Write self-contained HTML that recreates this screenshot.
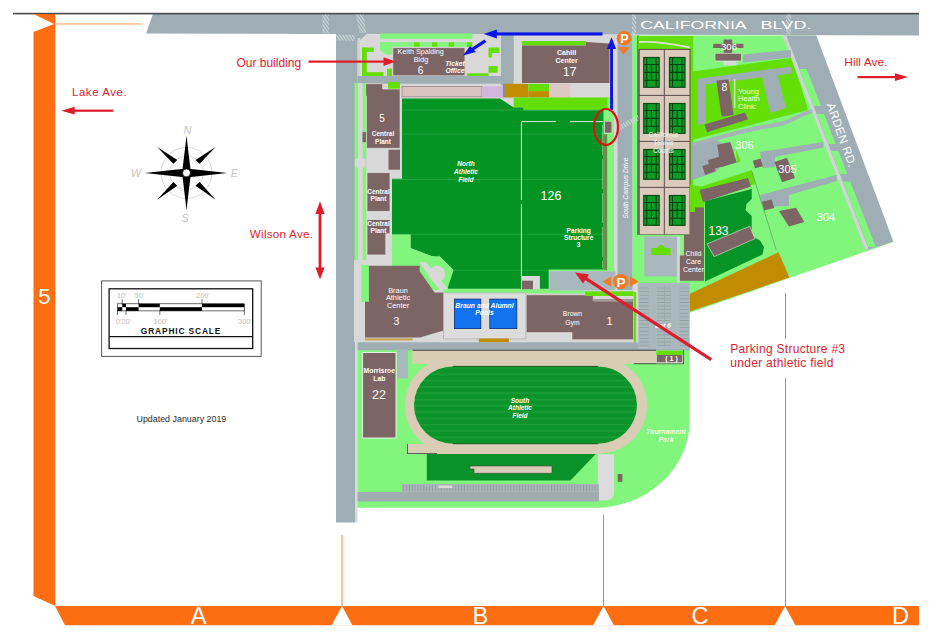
<!DOCTYPE html>
<html><head><meta charset="utf-8"><style>
html,body{margin:0;padding:0;background:#fff;overflow:hidden;width:932px;height:639px;}
svg{display:block;}
text{font-family:"Liberation Sans",sans-serif;}
</style></head><body>
<svg width="932" height="639" viewBox="0 0 932 639">
<rect x="0" y="0" width="932" height="639" fill="#fff"/>
<!-- top road -->
<polygon points="153,14 919,14 919,35.5 146,33.5" fill="#9eaeb4"/>
<rect x="13" y="12.8" width="906" height="1.6" fill="#4a4a4a"/>
<defs><pattern id="hatch" width="2.6" height="2.6" patternUnits="userSpaceOnUse" patternTransform="rotate(-35)"><rect width="1.1" height="2.6" fill="#cdd8da"/></pattern></defs>
<rect x="322.4" y="14.5" width="6.4" height="18.8" fill="url(#hatch)"/>
<polygon points="355.8,14.5 363.5,14.5 366.3,33.3 359.6,33.3" fill="url(#hatch)"/>
<rect x="632" y="14.5" width="4" height="20" fill="url(#hatch)"/><rect x="786" y="14.5" width="5" height="20" fill="url(#hatch)"/>

<!-- left vertical road -->
<rect x="336" y="33" width="19" height="489.5" fill="#9eaeb4"/>
<rect x="355" y="33" width="2.5" height="489.5" fill="#d4dcd6"/>

<rect x="336.3" y="34.8" width="21.7" height="6" fill="url(#hatch)"/>
<!-- EAST CAMPUS base -->
<polygon points="637,35.5 815,35.5 893,242 689,313 637,313" fill="#82f57c"/>
<!-- Arden road -->
<polygon points="784,35.5 816.3,35.5 893.3,241.6 866,250.5" fill="#9eaeb4"/>
<polygon points="782.6,35.5 786.2,35.5 868.8,249 865.2,250" fill="#d0d4d4"/>

<!-- WEST CAMPUS base -->
<rect x="355" y="33" width="12" height="8" fill="#9eaeb4"/>
<polygon points="366,34.4 637.5,34.4 637.5,350 357.5,350 357.5,83 360.5,83 360.5,40" fill="#d8d8d8"/>
<!-- south area light green -->
<path d="M357.5,349.4 H689.7 V420.8 A95.5,87 0 0 1 594.2,507.8 H357.5 Z" fill="#82f57c"/>


<!-- NORTH WEST CAMPUS -->
<rect x="355" y="33" width="2.6" height="50" fill="#9eaeb4"/>
<rect x="357.6" y="38" width="2.9" height="45" fill="#cdd6cf"/>
<polygon points="360.5,40 366,34.4 503.7,34.4 503.7,76 360.5,76" fill="#d8d8d8"/>
<rect x="380" y="33.5" width="92.4" height="5.3" fill="#82f57c"/>
<rect x="380" y="42.3" width="92" height="4.4" fill="#82f57c"/>
<polygon points="380,42.3 392,42.3 392,54.6 386,54.6 380,50" fill="#82f57c"/>
<rect x="414" y="42.3" width="5.6" height="4.4" fill="#64df06"/>
<rect x="432" y="42.3" width="5.4" height="4.4" fill="#64df06"/>
<rect x="448.6" y="42.3" width="5.4" height="4.4" fill="#64df06"/>
<rect x="467" y="42.3" width="5.4" height="4.4" fill="#64df06"/>
<rect x="362" y="47.6" width="4.8" height="28.4" fill="#64df06"/>
<rect x="362" y="47.6" width="11.8" height="4.4" fill="#64df06"/>
<rect x="362" y="72.2" width="21.5" height="3.8" fill="#64df06"/>
<rect x="387" y="68.7" width="5" height="7.3" fill="#64df06"/>
<rect x="392.9" y="47.8" width="72" height="28" fill="#7d6565" stroke="#ddd4d4" stroke-width="0.6"/>
<polygon points="488.5,47.5 499.4,47.5 499.4,53 491.8,53 491.8,57.4 488.5,57.4" fill="#64df06"/>
<rect x="488.5" y="66.1" width="9.2" height="6.6" fill="#64df06"/>
<rect x="467.1" y="73.3" width="21.4" height="2.7" fill="#64df06"/>
<rect x="357.5" y="76" width="146.2" height="7.7" fill="#9eaeb4"/>
<rect x="501" y="35" width="12.7" height="50" fill="#9eaeb4"/>
<rect x="522" y="41" width="64" height="4.5" fill="#64df06"/>
<polygon points="522,45.5 586,45.5 586,42 609.5,43.5 609.5,82.9 522,82.9" fill="#7d6565"/>
<!-- row -->
<rect x="388" y="82" width="12" height="7" fill="#64df06"/>
<polygon points="365,83.7 382.6,83.7 382.6,89 400,89 400,148.3 366.5,148.3 366.5,96 365,96" fill="#7d6565" stroke="#ece4e4" stroke-width="0.6"/>
<rect x="402" y="86.3" width="80" height="10.6" fill="#d9c2be" stroke="#8a7672" stroke-width="0.6"/>
<rect x="482" y="86.3" width="20.8" height="11.2" fill="#d4b6dc"/>
<rect x="502.8" y="83.8" width="3.2" height="13.7" fill="#8c8c8c"/>
<rect x="506" y="83.8" width="22.3" height="13.7" fill="#c18b02"/>
<rect x="528.3" y="91.1" width="21" height="6.4" fill="#c18b02"/>
<rect x="528.3" y="83.8" width="21" height="7.3" fill="#64df06"/>
<rect x="549.3" y="83.8" width="21" height="13.7" fill="#dcc8c4"/>
<polygon points="513.7,97.5 609.5,97.5 609.5,110.3 523.5,110.3 523.5,107.5 513.7,107.5" fill="#64df06"/>
<!-- field -->
<polygon points="402,98.6 500,98.6 513.7,107.5 523.5,107.5 523.5,110.3 603.7,110.3 603.7,270 548.75,270 548.75,288.75 445,288.75 453.4,269.7 438.5,255 441.8,260 410.3,248 410.3,234.8 392,234.8 392,178.8 402,178.8" fill="#039424"/>

<!-- field lines -->
<g stroke="#3cb85a" stroke-width="0.6" opacity="0.9">
<line x1="402" y1="110" x2="603.7" y2="110"/>
<line x1="402" y1="134.1" x2="603.7" y2="134.1"/>
<line x1="392" y1="179.5" x2="603.7" y2="179.5"/>
<line x1="392" y1="234.2" x2="603.7" y2="234.2"/>
<line x1="447" y1="270.2" x2="548" y2="270.2"/>
</g>
<g stroke="#e8f4e8" stroke-width="0.9">
<line x1="521.4" y1="121.6" x2="521.4" y2="200"/>
<line x1="521.4" y1="204" x2="521.4" y2="276"/>
<line x1="521.4" y1="121.6" x2="555.8" y2="121.6"/>
<line x1="569.9" y1="121.6" x2="602.8" y2="121.6"/>
</g>
<line x1="602.6" y1="125" x2="602.6" y2="268" stroke="#b8e0b8" stroke-width="0.6" stroke-dasharray="30,4"/>

<!-- central plants column -->
<rect x="358" y="83" width="3.4" height="177" fill="#d8d8d8"/>
<rect x="354.5" y="83" width="3.5" height="177" fill="#82f57c"/>
<rect x="362.6" y="83" width="3.6" height="177" fill="#82f57c"/>
<rect x="355" y="158.5" width="10.5" height="9.1" fill="#d8d8d8"/>
<rect x="362.5" y="132" width="3.5" height="10.2" fill="#7d6565"/>
<rect x="388.5" y="149.7" width="11.5" height="20" fill="#7d6565"/>
<rect x="367" y="172.7" width="23" height="38.7" fill="#7d6565" stroke="#ece4e4" stroke-width="0.7"/>
<polygon points="367,219.5 390,219.5 390,233.8 385.8,233.8 385.8,255 367,255" fill="#7d6565" stroke="#ece4e4" stroke-width="0.7"/>
<polygon points="392,234.8 410.3,234.8 410.3,248 441.8,260 392,260" fill="#82f57c"/>
<rect x="354" y="260" width="69.6" height="5" fill="#d8d8d8"/>


<!-- BRAUN / POOLS / GYM -->
<polygon points="410.5,234.8 410.5,247.8 419.7,256.3 439.4,256.3 453.5,270.4 447,290 420,290 392,265 392,234.8" fill="#82f57c"/>
<polygon points="419,262 426,262 449,290 441,292" fill="#d8d8d8"/>
<circle cx="436.8" cy="274" r="8.3" fill="#d8d8d8"/>
<polygon points="354,265 357.5,265 357.5,342 354,342" fill="#d8d8d8"/>
<rect x="361.4" y="265" width="7.5" height="37" fill="#82f57c"/>
<polygon points="368.9,265.8 419.7,265.8 419.7,271.3 434.6,292.4 443.6,292.4 443.6,330.5 420,337.5 365,337.5 365,301.8 368.9,301.8" fill="#7d6565"/>
<rect x="365" y="338.3" width="47.7" height="2.2" fill="#c9a45a"/>
<rect x="443.6" y="289" width="116" height="4" fill="#82f57c"/>
<rect x="443.6" y="292.9" width="82.2" height="46" fill="#dcdcdc" stroke="#b4b4b4" stroke-width="0.8"/>
<rect x="454.5" y="299.1" width="26.3" height="29.5" fill="#1173f0" stroke="#102a70" stroke-width="0.8"/>
<rect x="489.8" y="299.1" width="27" height="29.5" fill="#1173f0" stroke="#102a70" stroke-width="0.8"/>
<rect x="478.9" y="338.5" width="30" height="3.8" fill="#c18b02"/>
<rect x="521.1" y="276" width="18.8" height="13.2" fill="#d8d8d8"/>
<rect x="522" y="280.7" width="11" height="8.5" fill="#7d6565"/>
<polygon points="526.2,294.8 593.3,294.8 593.3,301 633.5,301 633.5,339.7 572,339.7 572,332.6 526.2,332.6" fill="#7d6565" stroke="#e8e0e0" stroke-width="0.6"/>
<rect x="593.3" y="299.6" width="40.2" height="0.8" fill="#4a3a3a"/>
<rect x="585" y="291.3" width="48.5" height="4.7" fill="#64df06"/><rect x="525" y="290.5" width="60" height="3" fill="#82f57c"/>
<rect x="633.75" y="292" width="2.5" height="50" fill="#64df06"/><rect x="636.25" y="290" width="2.5" height="52" fill="#d8d8d8"/>
<!-- parking near P -->
<rect x="548.75" y="269.5" width="66.25" height="2" fill="#82f57c"/><rect x="549.4" y="271.3" width="66" height="19" fill="#a8b8bc"/>
<!-- south campus drive -->
<rect x="603.7" y="134" width="3.8" height="136" fill="#6f8a4a"/><rect x="603.7" y="110.3" width="3.8" height="24" fill="#82f57c"/>
<rect x="607.5" y="98" width="6.7" height="172" fill="#82f57c"/>
<rect x="614.2" y="35" width="3.3" height="235" fill="#d8d8d8"/>
<rect x="617.5" y="35" width="15" height="255" fill="#9eaeb4"/>
<rect x="632.5" y="35.5" width="5" height="248" fill="#82f57c"/>
<rect x="637.2" y="35.5" width="1.6" height="200" fill="#5a6a5a"/>
<rect x="604.6" y="121.2" width="7.3" height="11.8" fill="#7d6565" stroke="#eee" stroke-width="0.5"/>

<polygon points="617.5,126 638,115 639,120 617.5,132" fill="url(#hatch)"/>
<!-- horizontal road -->
<rect x="357.5" y="342.3" width="332.2" height="8" fill="#9eaeb4"/>


<!-- SOUTH -->
<rect x="362.6" y="352.5" width="33.4" height="85.5" fill="#7d6565" stroke="#f4f4f4" stroke-width="0.9"/>
<rect x="397" y="349.4" width="11" height="29" fill="#a8b8bc"/>
<!-- track -->
<rect x="405" y="357" width="242" height="96.5" rx="48" ry="48" fill="#d9cdb6"/>
<rect x="412.2" y="350" width="244.1" height="13.9" fill="#d9cdb6"/>
<rect x="407" y="444" width="194" height="10" fill="#d9cdb6"/>
<rect x="407" y="444" width="0.8" height="10" fill="#444"/>
<rect x="407" y="453.2" width="30" height="0.8" fill="#444"/>
<rect x="412.7" y="349.8" width="243.5" height="0.9" fill="#333"/>
<rect x="633.7" y="363.3" width="50" height="0.9" fill="#3a4a3a"/><rect x="683" y="350" width="0.8" height="14" fill="#3a4a3a"/>
<defs><pattern id="stripes" x="0" y="373.5" width="20" height="6.3" patternUnits="userSpaceOnUse"><rect width="20" height="6.3" fill="#0a9429"/><rect y="0" width="20" height="1.5" fill="#1a9e36"/></pattern></defs>
<rect x="414" y="366.4" width="223" height="77.3" rx="39" ry="38.6" fill="url(#stripes)"/>
<rect x="453" y="365.9" width="145" height="0.9" fill="#0a4a18"/>
<rect x="453" y="443.3" width="145" height="0.9" fill="#0a4a18"/>
<polygon points="426.8,454 595.8,454 570.4,480.4 426.8,480.4" fill="#0a922a"/>
<polygon points="470,466 552,466 552,473.3 474,473.3 474,469 470,469" fill="#d9cdb6" stroke="#444" stroke-width="0.6"/>
<path d="M597.8,454.3 H614.2 V492 Q614.2,500.4 606,500.4 H597.8 Z" fill="#dcdcdc"/>
<rect x="617.7" y="474" width="4.7" height="7.8" fill="#7d6565"/>
<rect x="401.7" y="484" width="197.3" height="9" fill="#a8b4b8"/>
<defs><pattern id="ticks" x="0" y="0" width="2.9" height="10" patternUnits="userSpaceOnUse"><rect width="0.6" height="10" fill="#8a969a"/></pattern></defs>
<rect x="403" y="485" width="195" height="6" fill="url(#ticks)"/>
<rect x="438.3" y="485.5" width="14" height="2.5" fill="#dcdcdc"/>
<rect x="357.5" y="492" width="241.5" height="9.5" fill="#a0acb0"/>
<rect x="656.3" y="350.6" width="26.7" height="12.7" fill="#d8d8d8"/><rect x="656.3" y="350.6" width="26.7" height="4.3" fill="#64df06"/><rect x="656.9" y="354.9" width="25.3" height="7.3" fill="#7d6565"/>


<!-- EAST CAMPUS -->
<defs>
<g id="court">
<rect x="0" y="0" width="16.7" height="31" fill="#064a14"/>
<rect x="1.2" y="1.2" width="14.3" height="28.6" fill="#0c9e24"/>
<path d="M3.6,1.2 V29.8 M13.1,1.2 V29.8 M1.2,7.6 H15.5 M1.2,15.5 H15.5 M1.2,23.4 H15.5 M8.35,7.6 V23.4" stroke="#04400e" stroke-width="1.1" fill="none"/>
</g>
</defs>
<!-- lime zone north-east -->
<polygon points="638,36 692,36 692,49.4 638,49.4" fill="#64df06"/>
<path d="M639,42 Q660,41 690,47.5" stroke="#d8e0d8" stroke-width="1.8" fill="none"/>
<rect x="689.7" y="36" width="3.5" height="200" fill="#64df06"/>
<polygon points="692,71.5 791,58 800,83 808,110 692,140" fill="#64df06"/>
<polygon points="743,54.5 791,50 791,57.5 743,62.5" fill="#9eaeb4"/>
<!-- loop road -->
<polygon points="697.5,78.8 791.3,66.5 791.8,73.5 706,84.5 706,123.5 697.5,125" fill="#9eaeb4"/>
<polygon points="762,77 777.5,74.5 786,108 770.6,113" fill="#9eaeb4"/>
<polygon points="706,84.5 730,81 732,95 716,95 710,92" fill="#64df06"/>
<rect x="733.8" y="79" width="1.6" height="29" fill="#d8d8d8"/>
<polygon points="716.4,80.5 728.5,79.6 733.6,115 721.6,116.7" fill="#7d6565"/>
<polygon points="704.4,124.4 744.8,112.4 748.3,119.2 707,132.2" fill="#7d6565"/>
<!-- 306 top -->
<rect x="723.6" y="61" width="12.9" height="4.3" fill="#d8d8d8"/>
<rect x="723.6" y="39.5" width="8.6" height="15.5" fill="#7d6565"/>
<rect x="713.2" y="43.8" width="30.2" height="4.2" fill="#7d6565"/>
<rect x="715" y="53.2" width="26.6" height="7.8" fill="#7d6565" stroke="#f0f0f0" stroke-width="0.6"/>
<!-- curvy path -->
<path d="M692,145 L740,132 C760,127 770,126 780,124 C792,122 795,116 812,111" stroke="#a6b4b8" stroke-width="4" fill="none"/>
<polygon points="692,146 716,140 735,150 716,172 692,180" fill="#9eaeb4"/>
<!-- 306 lower -->
<polygon points="717.1,144.7 730.3,141.9 736.8,162.6 720.9,167.3" fill="#7d6565"/>
<polygon points="708,160 722,156 724,166 710,170" fill="#7d6565"/>
<polygon points="702.5,166 712.5,163 715.5,171 705,175" fill="#7d6565"/>
<polygon points="735.9,149.4 740.6,161.6 737,163" fill="#64df06"/>
<!-- 305 -->
<polygon points="760,152 823.2,142 823.5,147.5 775,157 775,167 763,168" fill="#9eaeb4"/>
<polygon points="752.8,160.8 760.5,158.5 763,166.3 755,168.3" fill="#7d6565"/>
<polygon points="774.4,162 787,157.8 795,178 782,182.3" fill="#7d6565"/>
<!-- 304 -->
<polygon points="760.3,195 836.4,175 837,181 789,195 789,205.8 760,207" fill="#9eaeb4"/>
<polygon points="761.2,202 771.5,199.5 774.4,208 764,210.5" fill="#7d6565"/>
<polygon points="779,211 796,207.7 804.4,222 789,226.4" fill="#7d6565"/>
<!-- light green strip in arden road -->
<polygon points="799.2,69.0 806.6,69.0 820.9,106.0 813.5,106.0" fill="#82f57c"/>
<polygon points="816.7,114.0 824.1,114.0 835.7,144.0 828.3,144.0" fill="#82f57c"/>
<polygon points="831.0,151.0 838.4,151.0 847.3,174.0 839.9,174.0" fill="#82f57c"/>
<polygon points="842.8,181.5 850.2,181.5 875.7,247.0 868.3,247.0" fill="#82f57c"/>

<!-- tennis -->
<rect x="639.2" y="49.4" width="50.8" height="185.4" fill="#dccbbc" stroke="#5a4a4a" stroke-width="1"/>
<path d="M664.3,49.4 V234.8 M639.2,95.4 H690 M639.2,141.4 H690 M639.2,187.4 H690" stroke="#5a4a4a" stroke-width="1"/>
<use href="#court" x="643.1" y="56.9"/><use href="#court" x="668.9" y="56.9"/>
<use href="#court" x="643.1" y="102.9"/><use href="#court" x="668.9" y="102.9"/>
<use href="#court" x="643.1" y="148.9"/><use href="#court" x="668.9" y="148.9"/>
<use href="#court" x="643.1" y="194.9"/><use href="#court" x="668.9" y="194.9"/>
<!-- below tennis -->
<rect x="637.5" y="234.8" width="52" height="48" fill="#82f57c"/>
<rect x="644.3" y="236.5" width="32.9" height="39.9" fill="#a8b8bc"/>
<path d="M651.3,255 V248 H657 Q661,241 665,248 H670.6 V255 Z" fill="#64df06"/>
<rect x="677.2" y="236.5" width="3" height="46" fill="#d8d8d8"/>
<!-- 133 area -->
<polygon points="689.7,236 701.8,186.6 752,170 776.3,250.1 689.7,282" fill="#82f57c"/>
<polygon points="689.7,185 701.8,186.6 752,170 755,184 705,200 700,235 689.7,235" fill="#64df06"/>
<polygon points="705,201 751.7,189 751.7,199 746.5,204 745.5,210 751.7,216 751.7,236 760,240.5 764,247 762.5,254.5 705,281.6" fill="#079427"/>
<polygon points="699.6,189.9 748,178 751,186.6 703,202" fill="#7d6565"/>
<polygon points="706.9,244 749.7,226.3 755,238.7 714.2,256.6" fill="#7d6565" stroke="#e8e8e8" stroke-width="0.6"/>
<polygon points="695,207.4 704,207.4 704,280.8 679.8,280.8 679.8,255.6 684,255.6 684,235 690,235 690,212 695,212" fill="#7d6565"/>
<line x1="752" y1="172" x2="776.3" y2="250.1" stroke="#5a8a5a" stroke-width="0.6"/>
<!-- gold -->
<polygon points="689.7,294 778.5,252.3 789.4,277.5 689.7,311.5" fill="#c18b02"/>
<!-- lot 6 -->
<rect x="638.2" y="283" width="51.5" height="66" fill="#a8b8bc"/>
<defs><pattern id="stall" x="0" y="284" width="10" height="3.6" patternUnits="userSpaceOnUse"><rect x="0" y="0" width="10" height="0.6" fill="#8a9498"/></pattern></defs>
<rect x="639.4" y="286" width="9.4" height="60" fill="url(#stall)"/>
<rect x="657" y="286" width="14" height="60" fill="url(#stall)"/>
<rect x="679.5" y="286" width="9.5" height="60" fill="url(#stall)"/>
<rect x="664" y="286" width="0.5" height="60" fill="#97a3a7"/>


<!-- MAP LABELS -->
<g font-family="Liberation Sans, sans-serif" fill="#fff" text-anchor="middle">
<text x="420.7" y="54" font-size="7.2">Keith Spalding</text>
<text x="421" y="61.6" font-size="7.2">Bldg</text>
<text x="420.5" y="73.6" font-size="10.2">6</text>
<text x="455" y="65.9" font-size="6.8" font-weight="bold" font-style="italic">Ticket</text>
<text x="455" y="73.2" font-size="6.8" font-weight="bold" font-style="italic">Office</text>
<text x="566.6" y="54.7" font-size="7" font-weight="bold">Cahill</text>
<text x="566.6" y="62.5" font-size="7" font-weight="bold">Center</text>
<text x="569.6" y="76" font-size="12.5">17</text>
<text x="382" y="122" font-size="10">5</text>
<text x="383" y="136" font-size="6.5" font-weight="bold">Central</text>
<text x="383" y="143.5" font-size="6.5" font-weight="bold">Plant</text>
<text x="378.5" y="193.5" font-size="6.5" font-weight="bold">Central</text>
<text x="378.5" y="201" font-size="6.5" font-weight="bold">Plant</text>
<text x="378.5" y="226" font-size="6.5" font-weight="bold">Central</text>
<text x="378.5" y="233" font-size="6.5" font-weight="bold">Plant</text>
<text x="466" y="166" font-size="6.5" font-weight="bold" font-style="italic">North</text>
<text x="466" y="174" font-size="6.5" font-weight="bold" font-style="italic">Athletic</text>
<text x="466" y="181.5" font-size="6.5" font-weight="bold" font-style="italic">Field</text>
<text x="551" y="199.5" font-size="12.5">126</text>
<text x="578.7" y="232.5" font-size="6.6" font-weight="bold">Parking</text>
<text x="578.7" y="239.7" font-size="6.6" font-weight="bold">Structure</text>
<text x="578.7" y="247.2" font-size="6.6" font-weight="bold">3</text>
<text x="398" y="292.5" font-size="7.4">Braun</text>
<text x="398" y="300.2" font-size="7.4">Athletic</text>
<text x="398" y="307.8" font-size="7.4">Center</text>
<text x="396.5" y="324.5" font-size="10.5">3</text>
<text x="484.5" y="307.5" font-size="6.8" font-weight="bold" font-style="italic">Braun and Alumni</text>
<text x="484.5" y="315" font-size="6.8" font-weight="bold" font-style="italic">Pools</text>
<text x="572.5" y="316" font-size="6.8">Brown</text>
<text x="572.5" y="324.5" font-size="6.8">Gym</text>
<text x="609.5" y="325" font-size="11">1</text>
<text x="379.3" y="373" font-size="6.8" font-weight="bold">Morrisroe</text>
<text x="379.3" y="381" font-size="6.8" font-weight="bold">Lab</text>
<text x="379" y="399" font-size="12.5">22</text>
<text x="520" y="402.5" font-size="6.5" font-weight="bold" font-style="italic">South</text>
<text x="520" y="410" font-size="6.5" font-weight="bold" font-style="italic">Athletic</text>
<text x="520" y="417.5" font-size="6.5" font-weight="bold" font-style="italic">Field</text>
<text x="666" y="434.2" font-size="6.9" font-weight="bold" font-style="italic" fill="#eefcee">Tournament</text>
<text x="666" y="442" font-size="6.9" font-weight="bold" font-style="italic" fill="#eefcee">Park</text>
<text x="671.5" y="361.2" font-size="7" font-weight="bold">( 1 )</text>
<text x="663" y="328" font-size="6.5" font-weight="bold" font-style="italic">Lot 6</text>
<text x="693.5" y="256" font-size="7">Child</text>
<text x="693.5" y="264" font-size="7">Care</text>
<text x="693.5" y="272" font-size="7">Center</text>
<text x="718.5" y="234.5" font-size="12">133</text>
<text x="724.5" y="90.5" font-size="10.5">8</text>
<text x="729" y="49.8" font-size="9.6">306</text>
<text x="744.5" y="149" font-size="11">306</text>
<text x="787.5" y="173" font-size="11">305</text>
<text x="826" y="221" font-size="11">304</text>
<text x="663.5" y="137" font-size="6.5" font-weight="bold" fill="#e8f8e8" opacity="0.85">California</text>
<text x="663.5" y="145" font-size="6.5" font-weight="bold" fill="#e8f8e8" opacity="0.85">Tennis</text>
<text x="663.5" y="153" font-size="6.5" font-weight="bold" fill="#e8f8e8" opacity="0.85">Courts</text>
</g>
<g font-family="Liberation Sans, sans-serif" fill="#f0fff0" font-size="7.5">
<text x="738" y="93.5">Young</text>
<text x="738" y="101.2">Health</text>
<text x="738" y="109">Clinic</text>
</g>
<text x="627.5" y="218.5" font-size="6.6" fill="#fff" transform="rotate(-90 627.5 218.5)" font-family="Liberation Sans, sans-serif" font-style="italic">South Campus Drive</text>
<text x="640.2" y="28.7" font-size="11.7" fill="#fff" textLength="106.5" lengthAdjust="spacingAndGlyphs" font-family="Liberation Sans, sans-serif">CALIFORNIA</text>
<text x="760.5" y="28.7" font-size="11.7" fill="#fff" textLength="51" lengthAdjust="spacingAndGlyphs" font-family="Liberation Sans, sans-serif">BLVD.</text>
<text x="826.5" y="104.5" font-size="11.8" fill="#fff" letter-spacing="0.3" transform="rotate(70.5 826.5 104.5)" font-family="Liberation Sans, sans-serif">ARDEN RD.</text>

<!-- P icons -->
<circle cx="624" cy="38.2" r="7.3" fill="#f07a22"/>
<text x="624.3" y="42.9" font-size="12.5" font-weight="bold" fill="#fff" text-anchor="middle" font-family="Liberation Sans, sans-serif">P</text>
<polygon points="617.7,47.3 629.5,47.3 623.6,54.6" fill="#f07a22"/>
<circle cx="620.7" cy="281.6" r="7.7" fill="#f07a22"/>
<text x="621" y="286.6" font-size="13.5" font-weight="bold" fill="#fff" text-anchor="middle" font-family="Liberation Sans, sans-serif">P</text>
<polygon points="602.7,281.6 611.2,276.4 611.2,286.8" fill="#f07a22"/>
<polygon points="638.7,281.6 630.1,276.4 630.1,286.8" fill="#f07a22"/>

<!-- blue arrows -->
<g fill="#0a14e6" stroke="none">
<rect x="495" y="32.4" width="107.5" height="3.1"/>
<polygon points="483.7,34 496.9,29.6 496.9,38.4"/>
<rect x="610.1" y="46" width="2.9" height="64"/>
<polygon points="611.5,37.3 606.8,49 616.2,49"/>
<polygon points="484.4,39.5 486.4,42.1 473.5,50.5 471.5,47.9"/>
<polygon points="463,55.6 470.1,45.9 475.9,52"/>
</g>
<!-- red ellipse -->
<ellipse cx="606" cy="127" rx="12" ry="18" fill="none" stroke="#e01010" stroke-width="2.2"/>

<!-- red annotations -->
<g fill="#de1c2c">
<rect x="308.5" y="60.5" width="76" height="2.2"/>
<polygon points="395.8,61.6 383.5,57.3 383.5,66"/>
<rect x="73" y="109.6" width="40.3" height="2.2"/>
<polygon points="61.3,110.7 74.7,106.8 74.7,114.6"/>
<rect x="318.6" y="212" width="2.8" height="57"/>
<polygon points="320,201.3 315.4,214 324.6,214"/>
<polygon points="320,279.4 315.4,267.5 324.6,267.5"/>
<rect x="857.5" y="76" width="39" height="2.2"/>
<polygon points="908,77.1 895,73.2 895,81"/>
<polygon points="712,358.2 710.4,361 582,278 583.6,275.2"/>
<polygon points="575,272.5 589,274.5 583,283.5"/>
</g>
<g font-family="Liberation Sans, sans-serif" fill="#de1c2c">
<text x="236.4" y="66.8" font-size="12">Our building</text>
<text x="72" y="96" font-size="11.4" letter-spacing="0.6">Lake Ave.</text>
<text x="249.8" y="237.9" font-size="11.6" letter-spacing="0.28">Wilson Ave.</text>
<text x="844.3" y="65.5" font-size="11.8" letter-spacing="0.1">Hill Ave.</text>
<text x="730.3" y="353" font-size="12" letter-spacing="0.28">Parking Structure #3</text>
<text x="730.3" y="367.2" font-size="12" letter-spacing="0.3">under athletic field</text>
</g>
<text x="136.5" y="422.2" font-size="8.9" fill="#2a2a2a" font-family="Liberation Sans, sans-serif">Updated January 2019</text>

<!-- compass -->
<g>
<circle cx="186.5" cy="172.9" r="25.5" fill="none" stroke="#c8c8c8" stroke-width="0.7"/>
<circle cx="186.5" cy="172.9" r="16.8" fill="none" stroke="#c8c8c8" stroke-width="0.7"/>
<path d="M186.5,135.6 Q189,158 191,172.9 Q189,188 186.5,210.4 Q184,188 182,172.9 Q184,158 186.5,135.6 Z" fill="#000"/>
<path d="M144.9,172.9 Q167,170.5 186.5,168.4 Q206,170.5 227.1,172.9 Q206,175.3 186.5,177.4 Q167,175.3 144.9,172.9 Z" fill="#000"/>
<polygon points="157.2,147.1 177.3,160 173.3,163.8" fill="#000"/>
<polygon points="215.6,147.1 195.5,160 199.7,163.8" fill="#000"/>
<polygon points="157.2,199.7 177.3,185.8 173.3,182" fill="#000"/>
<polygon points="215.6,199.7 195.5,185.8 199.7,182" fill="#000"/>
<circle cx="186.5" cy="172.9" r="4" fill="#fff" stroke="#000" stroke-width="0.8"/>
<g font-family="Liberation Serif, serif" font-style="italic" fill="#c4c4c4" font-size="11" text-anchor="middle">
<text x="187.6" y="133.8">N</text>
<text x="135.9" y="177.3">W</text>
<text x="234.5" y="177.3">E</text>
<text x="185.2" y="221.7">S</text>
</g>
</g>

<!-- graphic scale -->
<g>
<rect x="101.6" y="280.9" width="159.6" height="75.5" fill="#fff" stroke="#555" stroke-width="1"/>
<rect x="109.1" y="288.8" width="143.6" height="59.7" fill="#fff" stroke="#111" stroke-width="1.3"/>
<line x1="109.1" y1="336.7" x2="252.7" y2="336.7" stroke="#111" stroke-width="1.2"/>
<rect x="117.5" y="303.8" width="126.8" height="7.1" fill="#fff" stroke="#111" stroke-width="0.6"/>
<g fill="#000">
<rect x="122.2" y="303.8" width="3.8" height="3.4"/>
<rect x="138.6" y="303.8" width="21.2" height="3.4"/>
<rect x="202" y="303.8" width="42.3" height="3.4"/>
<rect x="117.5" y="307.2" width="4.7" height="3.7"/>
<rect x="126" y="307.2" width="12.6" height="3.7"/>
<rect x="159.8" y="307.2" width="42.2" height="3.7"/>
</g>
<g stroke="#111" stroke-width="0.6">
<line x1="122.2" y1="299" x2="122.2" y2="304"/>
<line x1="138.6" y1="299" x2="138.6" y2="304"/>
<line x1="202" y1="299" x2="202" y2="304"/>
<line x1="117.5" y1="310" x2="117.5" y2="315"/>
<line x1="126" y1="310" x2="126" y2="315"/>
<line x1="159.8" y1="310" x2="159.8" y2="315"/>
<line x1="244.3" y1="310" x2="244.3" y2="315"/>
</g>
<g font-family="Liberation Sans, sans-serif" fill="#c0c0c0" font-size="7.5" text-anchor="middle">
<text x="121.8" y="297.8">10'</text>
<text x="139.5" y="297.8">50'</text>
<text x="203" y="297.8">200'</text>
<text x="123.5" y="323.5">0'20'</text>
<text x="160.5" y="323.5">100'</text>
<text x="245" y="323.5">300'</text>
</g>
<text x="181" y="333.6" font-size="8.4" font-weight="bold" fill="#111" text-anchor="middle" letter-spacing="0.85" font-family="Liberation Sans, sans-serif">GRAPHIC SCALE</text>
</g>

<!-- orange frame -->
<polygon points="33.5,14 55.3,14 55.3,606 33.5,596 33.5,32 54,24 33.5,14" fill="#fd6e12"/>
<rect x="55" y="23.3" width="87" height="1.3" fill="#f9b27a"/>
<polygon points="55,606 919,606 919,625.3 65,625.3" fill="#fd6e12"/>
<polygon points="342,606 352.5,625.5 331.5,625.5" fill="#fff"/>
<polygon points="603.5,606 614,625.5 593,625.5" fill="#fff"/>
<polygon points="785,606 795.5,625.5 774.5,625.5" fill="#fff"/>
<rect x="341.5" y="535" width="1" height="71" fill="#f08040"/>
<rect x="603" y="514.5" width="1" height="91.5" fill="#f08040"/>
<rect x="785" y="293" width="1" height="46" fill="#d08040"/>
<rect x="785" y="378" width="1" height="228" fill="#d08040"/>
<text x="44.4" y="304" font-size="22" fill="#fff" text-anchor="middle">5</text>




<text x="198.5" y="623.6" font-size="23.6" fill="#fff" text-anchor="middle">A</text>
<text x="480.3" y="623.6" font-size="23.6" fill="#fff" text-anchor="middle">B</text>
<text x="700" y="623.6" font-size="23.6" fill="#fff" text-anchor="middle">C</text>
<text x="900.4" y="623.6" font-size="23.6" fill="#fff" text-anchor="middle">D</text>
</svg>
</body></html>
